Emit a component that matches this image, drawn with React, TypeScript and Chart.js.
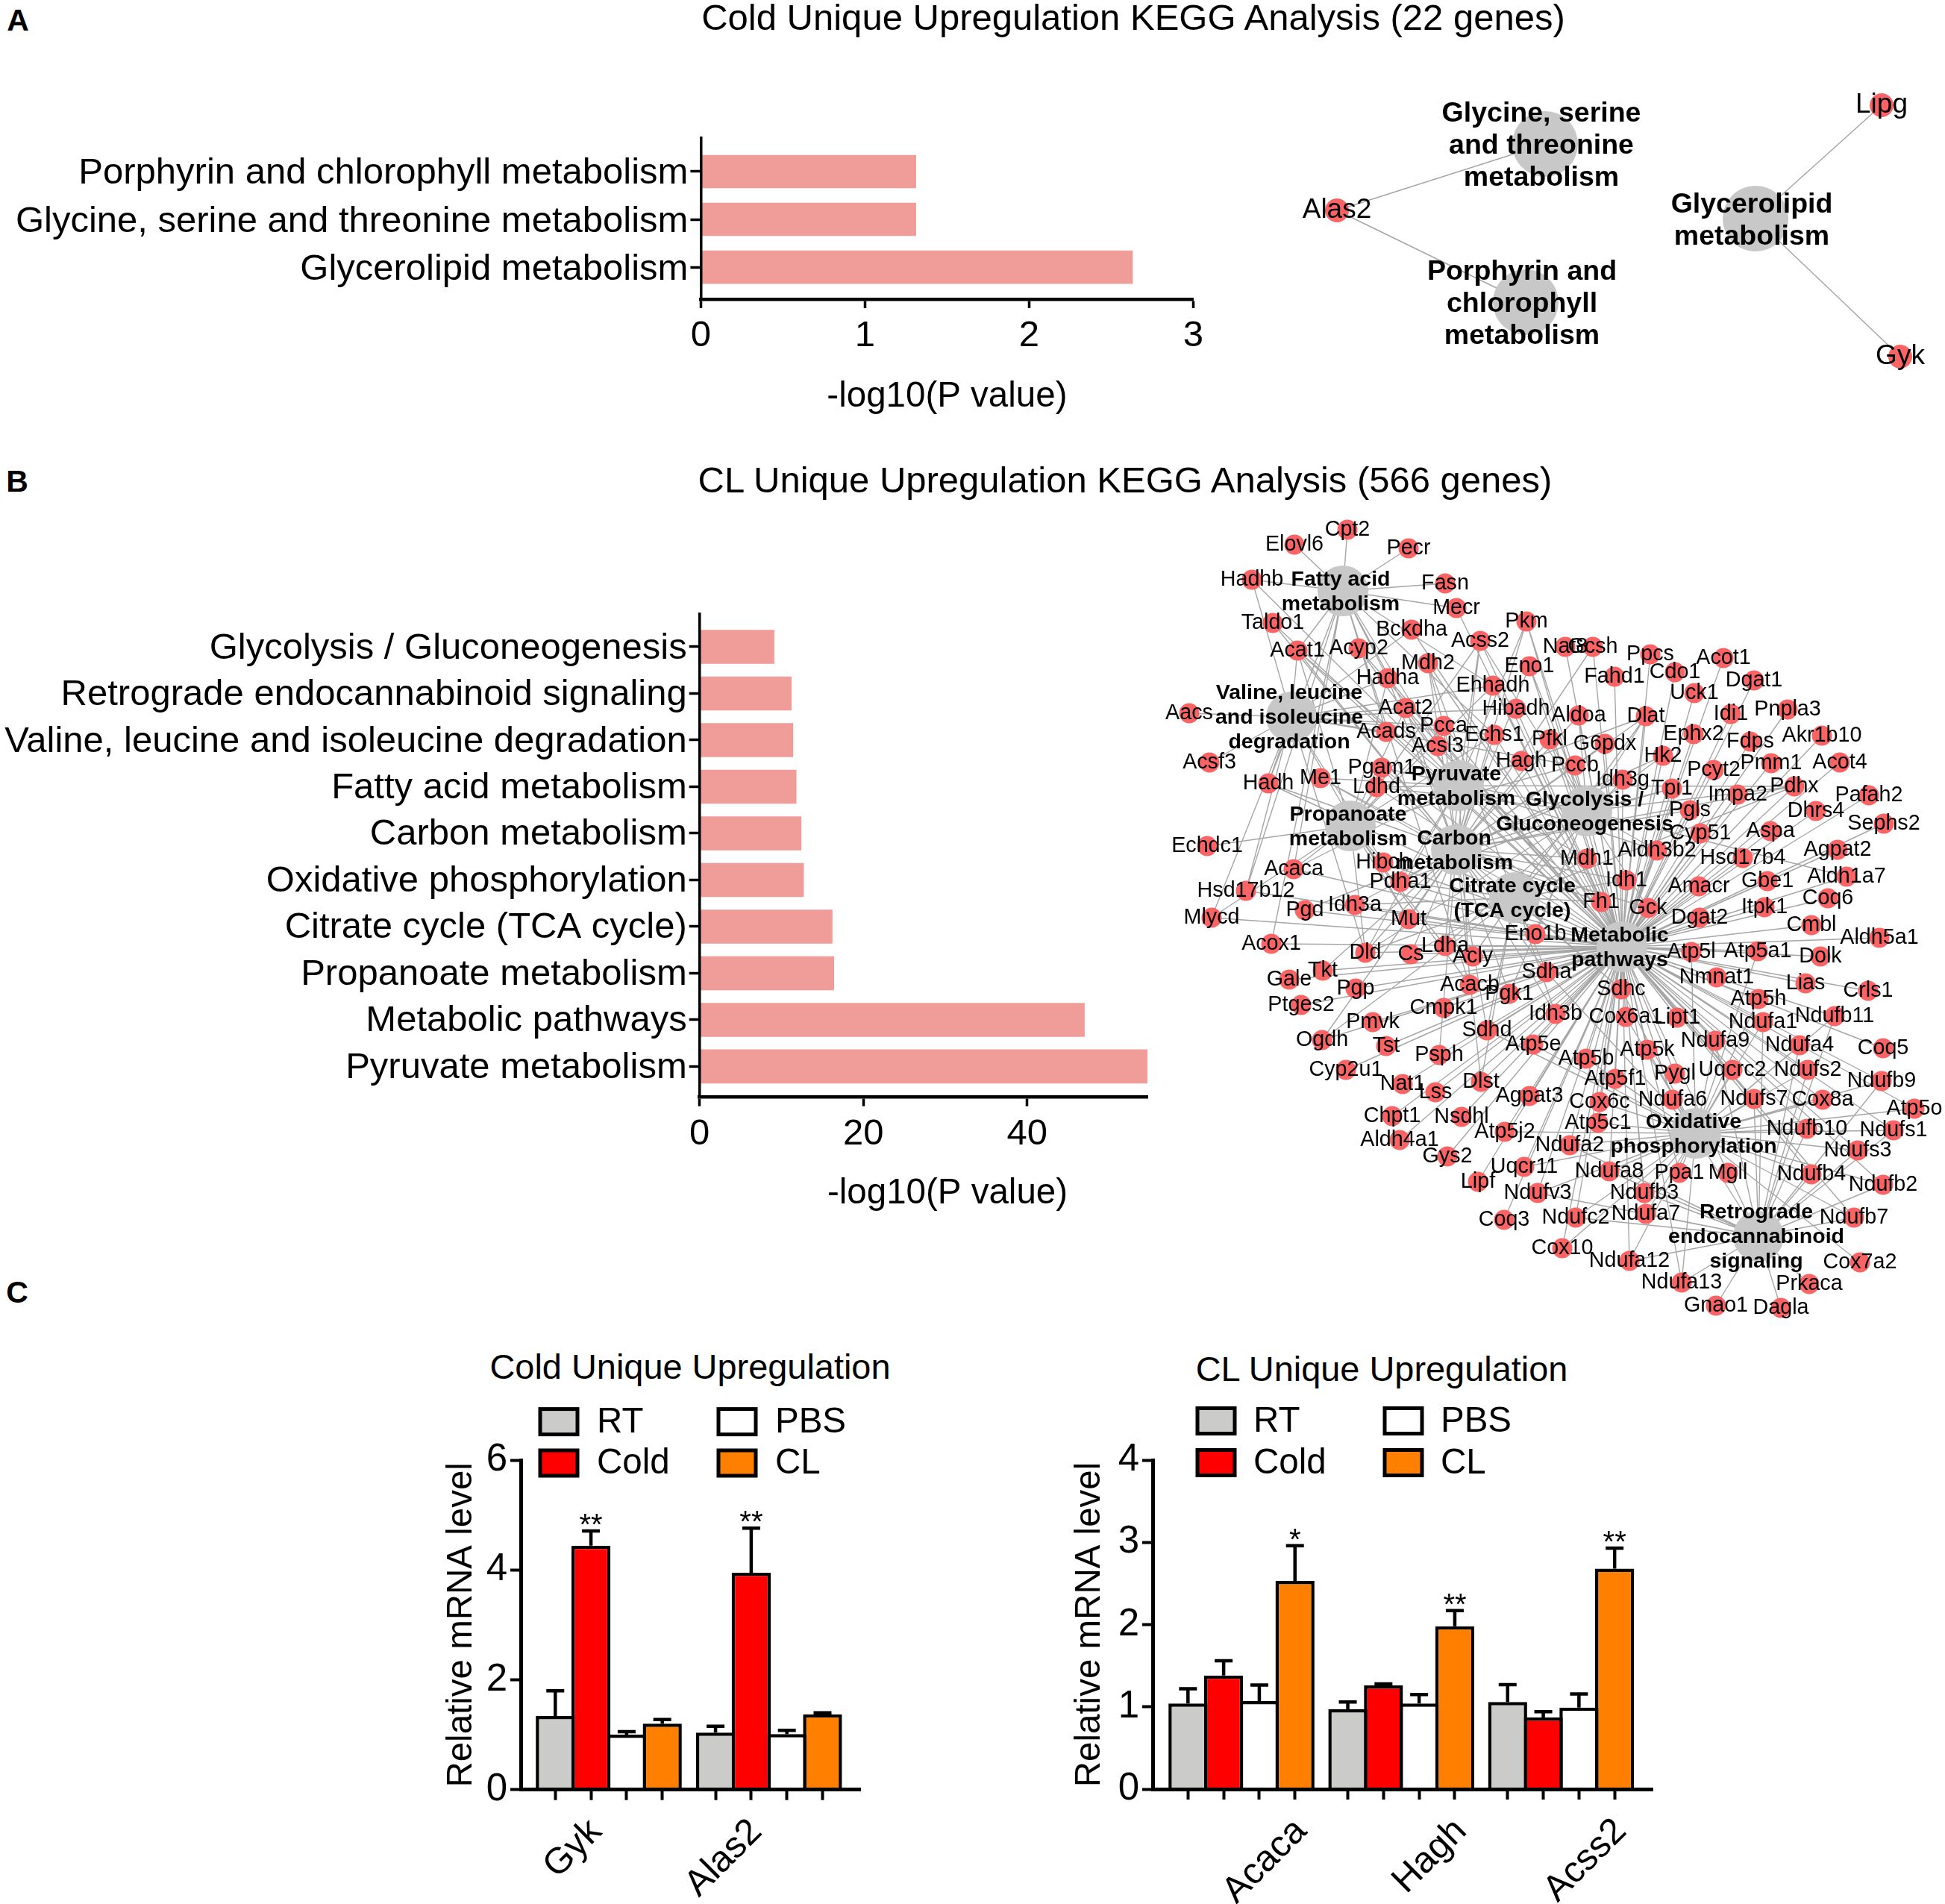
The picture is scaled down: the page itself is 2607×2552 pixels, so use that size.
import React, { useEffect, useRef } from "react";
import { Chart, registerables } from "chart.js";

Chart.register(...registerables);

const FONT = "'Liberation Sans', Arial, sans-serif";
Chart.defaults.font.family = FONT;
Chart.defaults.color = "#000";

// ---------- Panel A / B bars ----------
const coldKeggCategories = [
  "Porphyrin and chlorophyll metabolism",
  "Glycine, serine and threonine metabolism",
  "Glycerolipid metabolism",
];
const coldKeggValues = [1.31, 1.31, 2.63];
const coldKeggTicks = [0, 1, 2, 3];

const clKeggCategories = [
  "Glycolysis / Gluconeogenesis",
  "Retrograde endocannabinoid signaling",
  "Valine, leucine and isoleucine degradation",
  "Fatty acid metabolism",
  "Carbon metabolism",
  "Oxidative phosphorylation",
  "Citrate cycle (TCA cycle)",
  "Propanoate metabolism",
  "Metabolic pathways",
  "Pyruvate metabolism",
];
const clKeggValues = [9.1, 11.2, 11.4, 11.8, 12.4, 12.7, 16.2, 16.4, 47.0, 54.7];
const clKeggTicks = [0, 20, 40];

// ---------- Panel C bars ----------
const treatments = ["RT", "Cold", "PBS", "CL"];
const treatmentColors = ["#CBCBC9", "#FF0000", "#FFFFFF", "#FF8000"];

const coldGenes = ["Gyk", "Alas2"];
const coldRT = [1.34, 1.04];
const coldCold = [4.44, 3.95];
const coldPBS = [1.0, 1.01];
const coldCL = [1.2, 1.37];
const coldRTUpper = [1.8, 1.155];
const coldColdUpper = [4.71, 4.76];
const coldPBSUpper = [1.055, 1.08];
const coldCLUpper = [1.275, 1.4];
const coldMarks = ["**", "**"];

const clGenes = ["Acaca", "Hagh", "Acss2"];
const clRT = [1.04, 0.97, 1.06];
const clCold = [1.38, 1.26, 0.87];
const clPBS = [1.07, 1.04, 0.99];
const clCL = [2.53, 1.98, 2.68];
const clRTUpper = [1.22, 1.06, 1.27];
const clColdUpper = [1.56, 1.28, 0.94];
const clPBSUpper = [1.265, 1.15, 1.157];
const clCLUpper = [2.96, 2.17, 2.93];
const clMarks = ["*", "**", "**"];

// ---------- Panel A network ----------
type Node = [string, number, number];
const coldHubs: Node[] = [
  ["Glycine, serine\nand threonine\nmetabolism", 2071, 193],
  ["Porphyrin and\nchlorophyll\nmetabolism", 2045, 405],
  ["Glycerolipid\nmetabolism", 2353, 293],
];
const coldGeneNodes: Node[] = [
  ["Alas2", 1792, 282],
  ["Lipg", 2522, 141],
  ["Gyk", 2547, 478],
];
const coldLinks: string[][] = [["Alas2"], ["Alas2"], ["Lipg", "Gyk"]];

// ---------- Panel B network ----------
const clHubs: Node[] = [
  ["Fatty acid\nmetabolism", 1800, 792],
  ["Valine, leucine\nand isoleucine\ndegradation", 1731, 961],
  ["Pyruvate\nmetabolism", 1955, 1053],
  ["Propanoate\nmetabolism", 1810, 1107],
  ["Carbon\nmetabolism", 1952, 1139],
  ["Citrate cycle\n(TCA cycle)", 2030, 1203],
  ["Glycolysis /\nGluconeogenesis", 2127, 1087],
  ["Metabolic\npathways", 2174, 1269],
  ["Oxidative\nphosphorylation", 2273, 1519],
  ["Retrograde\nendocannabinoid\nsignaling", 2357, 1657],
];
const clGeneNodes: Node[] = [
  ["Elovl6", 1735, 730], ["Cpt2", 1806, 710], ["Pecr", 1888, 735], ["Hadhb", 1678, 777],
  ["Fasn", 1937, 782], ["Mecr", 1952, 815], ["Taldo1", 1706, 835], ["Bckdha", 1892, 844],
  ["Acss2", 1984, 859], ["Pkm", 2046, 833], ["Acat1", 1739, 872], ["Acyp2", 1821, 869],
  ["Mdh2", 1914, 889], ["Hadha", 1860, 909], ["Eno1", 2050, 893], ["Ehhadh", 2001, 919],
  ["Aacs", 1594, 956], ["Acat2", 1884, 949], ["Hibadh", 2032, 950], ["Pcca", 1935, 973],
  ["Acads", 1858, 981], ["Echs1", 2003, 985], ["Acsl3", 1927, 1000], ["Acsf3", 1621, 1022],
  ["Hagh", 2039, 1020], ["Pgam1", 1852, 1029], ["Hadh", 1700, 1050], ["Me1", 1770, 1043],
  ["Ldhd", 1845, 1055], ["Echdc1", 1618, 1134], ["Acaca", 1734, 1165], ["Hibch", 1854, 1156],
  ["Pdha1", 1877, 1182], ["Hsd17b12", 1670, 1194], ["Idh3a", 1816, 1213], ["Pgd", 1749, 1220],
  ["Mlycd", 1624, 1230], ["Mut", 1888, 1232],
  ["Nat8", 2098, 867], ["Gcsh", 2135, 867], ["Ppcs", 2212, 877], ["Fahd1", 2164, 907],
  ["Cdo1", 2245, 901], ["Acot1", 2310, 882], ["Dgat1", 2351, 912], ["Uck1", 2271, 929],
  ["Idi1", 2320, 957], ["Pnpla3", 2396, 951], ["Aldoa", 2116, 959], ["Dlat", 2206, 960],
  ["Pfkl", 2077, 991], ["G6pdx", 2151, 997], ["Ephx2", 2270, 984], ["Fdps", 2346, 994],
  ["Akr1b10", 2442, 986], ["Hk2", 2229, 1013], ["Pccb", 2111, 1026], ["Pcyt2", 2297, 1032],
  ["Pmm1", 2374, 1023], ["Acot4", 2466, 1022], ["Idh3g", 2175, 1045], ["Tpi1", 2241, 1057],
  ["Pdhx", 2405, 1054], ["Impa2", 2329, 1065], ["Pafah2", 2505, 1066], ["Pgls", 2265, 1086],
  ["Dhrs4", 2434, 1087], ["Sephs2", 2525, 1104], ["Cyp51", 2279, 1117], ["Aspa", 2373, 1114],
  ["Agpat2", 2463, 1139], ["Aldh3b2", 2221, 1140], ["Mdh1", 2127, 1151], ["Hsd17b4", 2336, 1150],
  ["Idh1", 2180, 1180], ["Gbe1", 2369, 1181], ["Aldh1a7", 2475, 1175], ["Amacr", 2277, 1188],
  ["Coq6", 2450, 1204], ["Fh1", 2146, 1209], ["Gck", 2209, 1217], ["Itpk1", 2365, 1216],
  ["Dgat2", 2278, 1230], ["Cmbl", 2428, 1240],
  ["Acox1", 1704, 1265], ["Dld", 1830, 1277], ["Cs", 1891, 1279], ["Ldha", 1937, 1268],
  ["Acly", 1974, 1282], ["Tkt", 1773, 1301], ["Gale", 1728, 1313], ["Pgp", 1817, 1325],
  ["Acacb", 1970, 1320], ["Pgk1", 2023, 1332], ["Ptges2", 1744, 1347], ["Cmpk1", 1935, 1351],
  ["Pmvk", 1840, 1370], ["Sdhd", 1993, 1381], ["Ogdh", 1772, 1394], ["Tst", 1858, 1402],
  ["Psph", 1929, 1414], ["Cyp2u1", 1804, 1434], ["Nat1", 1880, 1453], ["Lss", 1924, 1464],
  ["Dlst", 1985, 1450], ["Agpat3", 2050, 1469], ["Chpt1", 1866, 1496], ["Nsdhl", 1959, 1497],
  ["Aldh4a1", 1876, 1528], ["Atp5j2", 2017, 1517], ["Gys2", 1940, 1550], ["Uqcr11", 2043, 1564],
  ["Lipf", 1981, 1584], ["Ndufv3", 2061, 1599], ["Coq3", 2016, 1635], ["Sdha", 2073, 1303],
  ["Idh3b", 2085, 1359], ["Atp5e", 2055, 1400], ["Eno1b", 2058, 1252],
  ["Aldh5a1", 2519, 1257], ["Atp5l", 2267, 1276], ["Atp5a1", 2356, 1275], ["Dolk", 2440, 1282],
  ["Nmnat1", 2301, 1310], ["Lias", 2420, 1318], ["Crls1", 2504, 1328], ["Sdhc", 2173, 1326],
  ["Atp5h", 2357, 1339], ["Cox6a1", 2179, 1363], ["Lipt1", 2248, 1364], ["Ndufa1", 2363, 1370],
  ["Ndufb11", 2459, 1362], ["Ndufa9", 2299, 1395], ["Ndufa4", 2412, 1401], ["Coq5", 2524, 1405],
  ["Atp5k", 2208, 1407], ["Atp5b", 2126, 1419], ["Pygl", 2245, 1439], ["Uqcrc2", 2322, 1434],
  ["Ndufs2", 2423, 1434], ["Ndufb9", 2522, 1449], ["Atp5f1", 2165, 1446], ["Cox6c", 2144, 1477],
  ["Ndufa6", 2242, 1474], ["Ndufs7", 2351, 1473], ["Cox8a", 2443, 1474], ["Atp5o", 2566, 1486],
  ["Atp5c1", 2142, 1505], ["Ndufb10", 2422, 1513], ["Ndufs1", 2538, 1515], ["Ndufa2", 2104, 1535],
  ["Ndufs3", 2490, 1542], ["Ndufa8", 2157, 1570], ["Ppa1", 2251, 1572], ["Mgll", 2316, 1572],
  ["Ndufb4", 2428, 1574], ["Ndufb2", 2524, 1588], ["Ndufb3", 2204, 1599], ["Ndufa7", 2206, 1627],
  ["Ndufc2", 2112, 1632], ["Ndufb7", 2485, 1632], ["Cox10", 2094, 1673], ["Cox7a2", 2493, 1692],
  ["Ndufa12", 2184, 1690], ["Ndufa13", 2254, 1719], ["Prkaca", 2425, 1721], ["Gnao1", 2300, 1750],
  ["Dagla", 2387, 1753],
];

const fattyAcidGenes = "Elovl6 Cpt2 Pecr Hadhb Fasn Mecr Acat1 Hadha Acat2 Ehhadh Echs1 Acsl3 Hadh Acox1 Acaca Acacb Hsd17b12 Acads".split(" ");
const valineGenes = "Aacs Acsf3 Hadhb Hadha Hadh Acat1 Acat2 Acads Bckdha Ehhadh Echs1 Pcca Pccb Mut Hibadh Hibch Mlycd Dld Hsd17b12".split(" ");
const pyruvateGenes = "Acss2 Acat1 Acat2 Acaca Acacb Acyp2 Dlat Dld Fh1 Hagh Ldha Ldhd Mdh1 Mdh2 Me1 Pdha1 Pdhx Pkm Aldh3b2".split(" ");
const propanoateGenes = "Acat1 Acat2 Acaca Acacb Mlycd Echdc1 Hibch Acss2 Pcca Pccb Mut Ldha Ldhd Ehhadh Echs1 Hadha Dld".split(" ");
const carbonGenes = "Taldo1 Acat1 Acat2 Acss2 Aldoa Cs Dlat Dld Eno1 Eno1b Fh1 G6pdx Gck Hk2 Idh1 Idh3a Idh3b Idh3g Hadha Hadh Echs1 Ehhadh Me1 Mdh1 Mdh2 Mut Ogdh Pcca Pccb Pdha1 Pdhx Pfkl Pgam1 Pgd Pgk1 Pgls Pkm Psph Sdha Sdhc Sdhd Tkt Tpi1 Gcsh Dlst".split(" ");
const citrateGenes = "Acly Cs Dlat Dld Dlst Fh1 Idh1 Idh3a Idh3b Idh3g Mdh1 Mdh2 Ogdh Pdha1 Pdhx Sdha Sdhc Sdhd".split(" ");
const glycolysisGenes = "Acss2 Aldoa Dlat Dld Eno1 Eno1b Gck Hk2 Ldha Ldhd Pdha1 Pdhx Pfkl Pgam1 Pgk1 Pkm Tpi1 Aldh3b2 Aldh1a7".split(" ");
const oxphosGenes = "Atp5l Atp5a1 Atp5h Atp5o Atp5k Atp5b Atp5f1 Atp5c1 Atp5e Atp5j2 Cox6a1 Cox6c Cox8a Cox7a2 Cox10 Ndufa1 Ndufa2 Ndufa4 Ndufa6 Ndufa7 Ndufa8 Ndufa9 Ndufa12 Ndufa13 Ndufb2 Ndufb3 Ndufb4 Ndufb7 Ndufb9 Ndufb10 Ndufb11 Ndufc2 Ndufs1 Ndufs2 Ndufs3 Ndufs7 Ndufv3 Sdha Sdhc Sdhd Uqcrc2 Uqcr11 Ppa1".split(" ");
const retrogradeGenes = "Ndufa1 Ndufa2 Ndufa4 Ndufa6 Ndufa7 Ndufa8 Ndufa9 Ndufa12 Ndufa13 Ndufb2 Ndufb3 Ndufb4 Ndufb7 Ndufb9 Ndufb10 Ndufb11 Ndufc2 Ndufs1 Ndufs2 Ndufs3 Ndufs7 Ndufv3 Mgll Prkaca Gnao1 Dagla".split(" ");
const notMetabolicGenes = "Elovl6 Cpt2 Pecr Fasn Aacs Acsf3 Echdc1 Prkaca Gnao1 Dagla Cox7a2".split(" ");
const metabolicGenes = clGeneNodes.map((n) => n[0]).filter((g) => !notMetabolicGenes.includes(g));
const clLinks: string[][] = [
  fattyAcidGenes, valineGenes, pyruvateGenes, propanoateGenes, carbonGenes,
  citrateGenes, glycolysisGenes, metabolicGenes, oxphosGenes, retrogradeGenes,
];

// ---------- helpers ----------
const font = (size: number, weight: any = "normal") => ({ family: FONT, size, weight, lineHeight: 1.2 });

const textPlugin = (items: { text: string; x: number; y: number; size: number }[]) => ({
  id: "freeText",
  afterDraw(chart: any) {
    const c = chart.ctx;
    c.save();
    c.fillStyle = "#000";
    c.textAlign = "center";
    c.textBaseline = "middle";
    items.forEach((t) => {
      c.font = `${t.size}px ${FONT}`;
      c.fillText(t.text, t.x, t.y);
    });
    c.restore();
  },
});

function hbarConfig(o: any) {
  const { cats, values, ticks, xMax, yMin, yMax, yAxisWidth, xAxisHeight, thickness, padTop, padRight, title, titleBottom, extra, xPad, labelShift } = o;
  return {
    type: "bar",
    data: {
      datasets: [{
        data: values.map((v: number, i: number) => ({ x: v, y: i })),
        backgroundColor: "#F09C99",
        borderWidth: 0,
        barThickness: thickness,
      }],
    },
    options: {
      indexAxis: "y",
      animation: false,
      responsive: false,
      devicePixelRatio: 1,
      layout: { padding: { top: padTop, right: padRight, left: 0, bottom: 0 } },
      plugins: { legend: { display: false }, title: { display: false }, tooltip: { enabled: false } },
      scales: {
        y: {
          type: "linear", reverse: true, min: yMin, max: yMax, offset: false,
          afterFit: (s: any) => { s.width = yAxisWidth; },
          afterBuildTicks: (s: any) => { s.ticks = cats.map((_: string, i: number) => ({ value: i })); },
          grid: { offset: false, drawOnChartArea: false, drawTicks: true, tickLength: 14, tickWidth: 3.5, tickColor: "#000", z: 1 },
          border: { display: true, color: "#000", width: 3.5, z: 1 },
          ticks: {
            autoSkip: false, padding: 3, color: "#000", font: font(49), labelOffset: labelShift,
            callback: (v: number) => cats[v],
          },
        },
        x: {
          type: "linear", min: 0, max: xMax,
          afterFit: (s: any) => { s.height = xAxisHeight; },
          afterBuildTicks: (s: any) => { s.ticks = ticks.map((v: number) => ({ value: v })); },
          grid: { drawOnChartArea: false, drawTicks: true, tickLength: 12, tickWidth: 3.5, tickColor: "#000", z: 1 },
          border: { display: true, color: "#000", width: 4.5, z: 1 },
          ticks: { autoSkip: false, padding: xPad, maxRotation: 0, color: "#000", font: font(49) },
          title: title
            ? { display: true, text: title, color: "#000", font: font(47.5), padding: { top: 0, bottom: titleBottom } }
            : { display: false },
        },
      },
    },
    plugins: extra ? [extra] : [],
  };
}

function errorBarsPlugin(uppers: number[][], markDataset: number, marks: string[]) {
  return {
    id: "errorBars",
    afterDatasetsDraw(chart: any) {
      const c = chart.ctx;
      const y = chart.scales.y;
      c.save();
      c.strokeStyle = "#000";
      c.lineWidth = 4.5;
      uppers.forEach((row, d) => {
        const bars = chart.getDatasetMeta(d).data;
        row.forEach((u, i) => {
          const b = bars[i];
          const top = y.getPixelForValue(u);
          c.beginPath();
          c.moveTo(b.x, b.y);
          c.lineTo(b.x, top);
          c.moveTo(b.x - 12, top);
          c.lineTo(b.x + 12, top);
          c.stroke();
        });
      });
      c.fillStyle = "#000";
      c.font = `40px ${FONT}`;
      c.textAlign = "center";
      c.textBaseline = "alphabetic";
      marks.forEach((m, i) => {
        const b = chart.getDatasetMeta(markDataset).data[i];
        c.fillText(m, b.x, y.getPixelForValue(uppers[markDataset][i]) + 5);
      });
      c.restore();
    },
  };
}

function legendPlugin(boxX: number[], textX: number[], rowY: number[], boxW: number) {
  return {
    id: "gridLegend",
    afterDraw(chart: any) {
      const c = chart.ctx;
      c.save();
      c.font = `47.5px ${FONT}`;
      c.textAlign = "left";
      c.textBaseline = "middle";
      chart.data.datasets.forEach((d: any, i: number) => {
        const col = i < 2 ? 0 : 1;
        const row = i % 2;
        c.fillStyle = d.backgroundColor;
        c.strokeStyle = "#000";
        c.lineWidth = 5;
        c.fillRect(boxX[col], rowY[row] - 17, boxW, 34);
        c.strokeRect(boxX[col], rowY[row] - 17, boxW, 34);
        c.fillStyle = "#000";
        c.fillText(d.label, textX[col], rowY[row] + 1);
      });
      c.restore();
    },
  };
}

function groupedConfig(o: any) {
  const { genes, series, uppers, xMin, xMax, yMax, yStep, barStep, groupStep, axisWidth, axisHeight, padTop, padRight, yTitlePad, legend, markDataset, marks, labelShiftPx, labelPad } = o;
  const offset = barStep / groupStep;
  const labelAt = new Map<number, string>();
  const tickValues: number[] = [];
  genes.forEach((gene: string, g: number) => {
    [-1.5, -0.5, 0.5, 1.5].forEach((k) => tickValues.push(g + 1 + k * offset));
    const v = g + 1 + labelShiftPx / groupStep;
    labelAt.set(v, gene);
    tickValues.push(v);
  });
  tickValues.sort((a, b) => a - b);
  // bar width is driven by the smallest gap the bar ruler sees among ticks
  let minGap = Infinity;
  for (let i = 1; i < tickValues.length; i++) minGap = Math.min(minGap, tickValues[i] - tickValues[i - 1]);
  const categoryPercentage = (series.length * barStep) / (minGap * groupStep);
  return {
    type: "bar",
    data: {
      datasets: series.map((vals: number[], d: number) => ({
        label: treatments[d],
        data: vals.map((v, i) => ({ x: i + 1, y: v })),
        backgroundColor: treatmentColors[d],
        borderColor: "#000",
        borderWidth: 4.5,
        borderSkipped: "bottom",
        categoryPercentage,
        barPercentage: (barStep + 4.5) / barStep,
      })),
    },
    options: {
      animation: false,
      responsive: false,
      devicePixelRatio: 1,
      layout: { padding: { top: padTop, right: padRight, left: 0, bottom: 0 } },
      plugins: { legend: { display: false }, tooltip: { enabled: false }, title: { display: false } },
      scales: {
        x: {
          type: "linear", min: xMin, max: xMax, offset: false,
          afterFit: (s: any) => { s.height = axisHeight; },
          afterBuildTicks: (s: any) => { s.ticks = tickValues.map((v) => ({ value: v })); },
          grid: {
            offset: false, drawOnChartArea: false, drawTicks: true, tickLength: 14, tickWidth: 4, z: 1,
            tickColor: (ctx: any) => (ctx.tick && labelAt.has(ctx.tick.value) ? "rgba(0,0,0,0)" : "#000"),
          },
          border: { display: true, color: "#000", width: 5, z: 1 },
          ticks: {
            autoSkip: false, minRotation: 45, maxRotation: 45, padding: labelPad, color: "#000", font: font(49),
            callback: (v: number) => labelAt.get(v) || "",
          },
        },
        y: {
          type: "linear", min: 0, max: yMax,
          afterFit: (s: any) => { s.width = axisWidth; },
          afterBuildTicks: (s: any) => {
            const t = [];
            for (let v = 0; v <= yMax; v += yStep) t.push({ value: v });
            s.ticks = t;
          },
          grid: { drawOnChartArea: false, drawTicks: true, tickLength: 14, tickWidth: 4, tickColor: "#000", z: 1 },
          border: { display: true, color: "#000", width: 5, z: 1 },
          ticks: { padding: 4, color: "#000", font: font(51) },
          title: { display: true, text: "Relative mRNA level", color: "#000", font: font(47.5), padding: { top: yTitlePad, bottom: 0 } },
        },
      },
    },
    plugins: [errorBarsPlugin(uppers, markDataset, marks), legendPlugin(legend.boxX, legend.textX, legend.rowY, legend.boxW)],
  };
}

function networkConfig(o: any) {
  const { hubs, genes, links, left, top, width, height, hubR, geneR, geneSize, hubSize, hubGap, hubDx, hubDy, edgeWidth } = o;
  const byName: any = {};
  genes.forEach((n: Node) => { byName[n[0]] = n; });
  const edges: { x: number; y: number }[] = [];
  hubs.forEach((h: Node, i: number) => {
    links[i].forEach((g: string) => {
      const n = byName[g];
      if (!n) return;
      edges.push({ x: h[1], y: h[2] }, { x: n[1], y: n[2] }, { x: NaN, y: NaN });
    });
  });
  const labels = {
    id: "nodeLabels",
    afterDatasetsDraw(chart: any) {
      const c = chart.ctx;
      const { x, y } = chart.scales;
      c.save();
      c.fillStyle = "#000";
      c.textAlign = "center";
      c.textBaseline = "middle";
      c.font = `${geneSize}px ${FONT}`;
      genes.forEach((n: Node) => c.fillText(n[0], x.getPixelForValue(n[1]), y.getPixelForValue(n[2])));
      c.font = `bold ${hubSize}px ${FONT}`;
      hubs.forEach((h: Node) => {
        const lines = h[0].split("\n");
        lines.forEach((l: string, i: number) => {
          c.fillText(l, x.getPixelForValue(h[1]) + hubDx, y.getPixelForValue(h[2]) + hubDy + (i - (lines.length - 1) / 2) * hubGap);
        });
      });
      c.restore();
    },
  };
  return {
    type: "scatter",
    data: {
      datasets: [
        { data: edges, showLine: true, spanGaps: false, pointRadius: 0, borderColor: "#A6A6A6", borderWidth: edgeWidth, order: 3 },
        { data: hubs.map((h: Node) => ({ x: h[1], y: h[2] })), pointRadius: hubR, backgroundColor: "#C8C8C8", borderWidth: 0, order: 2 },
        { data: genes.map((n: Node) => ({ x: n[1], y: n[2] })), pointRadius: geneR, backgroundColor: "#FA6464", borderWidth: 0, order: 1 },
      ],
    },
    options: {
      animation: false,
      responsive: false,
      devicePixelRatio: 1,
      layout: { padding: 0, autoPadding: false },
      plugins: { legend: { display: false }, tooltip: { enabled: false } },
      scales: {
        x: { type: "linear", display: false, min: left, max: left + width },
        y: { type: "linear", display: false, reverse: true, min: top, max: top + height },
      },
    },
    plugins: [labels],
  };
}

function ChartCanvas({ left, top, width, height, build }: any) {
  const ref = useRef<HTMLCanvasElement | null>(null);
  useEffect(() => {
    const chart = new Chart(ref.current as any, build());
    return () => chart.destroy();
  }, []);
  return <canvas ref={ref} width={width} height={height} style={{ position: "absolute", left, top, width, height }} />;
}

function Heading({ text, x, y, size, bold }: any) {
  return (
    <div style={{
      position: "absolute", left: x, top: y - size / 2, transform: "translateX(-50%)", whiteSpace: "nowrap",
      fontFamily: FONT, fontSize: size, lineHeight: `${size}px`, fontWeight: bold ? "bold" : "normal", color: "#000",
    }}>{text}</div>
  );
}

export default function App() {
  return (
    <div style={{ position: "absolute", left: 0, top: 0, width: 2607, height: 2552, overflow: "hidden", background: "#fff" }}>
      <Heading text="A" x={24} y={27} size={41} bold />
      <Heading text="B" x={23} y={645} size={41} bold />
      <Heading text="C" x={23} y={1732} size={41} bold />
      <Heading text="Cold Unique Upregulation KEGG Analysis (22 genes)" x={1519} y={23} size={49} />
      <Heading text="CL Unique Upregulation KEGG Analysis (566 genes)" x={1508} y={643} size={49} />
      <Heading text="Cold Unique Upregulation" x={925} y={1832} size={46.9} />
      <Heading text="CL Unique Upregulation" x={1852} y={1835} size={46.9} />

      <ChartCanvas left={0} top={100} width={1640} height={470} build={() => hbarConfig({
        cats: coldKeggCategories, values: coldKeggValues, ticks: coldKeggTicks, xMax: 3,
        yMin: -0.71, yMax: 2.67, yAxisWidth: 939.4, xAxisHeight: 169, thickness: 44,
        padTop: 84.5, padRight: 40.6, title: "-log10(P value)", titleBottom: 10, xPad: 8, labelShift: 3,
      })} />
      <ChartCanvas left={0} top={760} width={1600} height={900} build={() => hbarConfig({
        cats: clKeggCategories, values: clKeggValues, ticks: clKeggTicks, xMax: 54.7,
        yMin: -0.704, yMax: 9.66, yAxisWidth: 937.7, xAxisHeight: 189.3, thickness: 45,
        padTop: 63, padRight: 62, xPad: 8, labelShift: 2,
        extra: textPlugin([{ text: "-log10(P value)", x: 1270, y: 840, size: 47.5 }]),
      })} />

      <ChartCanvas left={1700} top={80} width={907} height={460} build={() => networkConfig({
        hubs: coldHubs, genes: coldGeneNodes, links: coldLinks, left: 1700, top: 80, width: 907, height: 460,
        hubR: 44, geneR: 16, geneSize: 37, hubSize: 37.5, hubGap: 43, hubDx: -5, hubDy: 3, edgeWidth: 1.5,
      })} />
      <ChartCanvas left={1540} top={680} width={1067} height={1100} build={() => networkConfig({
        hubs: clHubs, genes: clGeneNodes, links: clLinks, left: 1540, top: 680, width: 1067, height: 1100,
        hubR: 34, geneR: 13.5, geneSize: 28.7, hubSize: 28.5, hubGap: 33, hubDx: -3, hubDy: 1.5, edgeWidth: 1.4,
      })} />

      <ChartCanvas left={560} top={1780} width={730} height={772} build={() => groupedConfig({
        genes: coldGenes, series: [coldRT, coldCold, coldPBS, coldCL],
        uppers: [coldRTUpper, coldColdUpper, coldPBSUpper, coldCLUpper],
        xMin: 0.4507, xMax: 2.569, yMax: 6, yStep: 2, barStep: 47.8, groupStep: 214.8,
        axisWidth: 138, axisHeight: 153.3, padTop: 177, padRight: 137, yTitlePad: 30,
        labelShiftPx: -17, labelPad: 14,
        legend: { boxX: [164, 403], textX: [240, 479], rowY: [125.6, 181], boxW: 50 },
        markDataset: 1, marks: coldMarks,
      })} />
      <ChartCanvas left={1400} top={1780} width={904} height={772} build={() => groupedConfig({
        genes: clGenes, series: [clRT, clCold, clPBS, clCL],
        uppers: [clRTUpper, clColdUpper, clPBSUpper, clCLUpper],
        xMin: 0.4444, xMax: 3.572, yMax: 4, yStep: 1, barStep: 47.8, groupStep: 214.2,
        axisWidth: 145, axisHeight: 154, padTop: 177, padRight: 89, yTitlePad: 32,
        labelShiftPx: 80, labelPad: 14,
        legend: { boxX: [205, 456], textX: [280, 531], rowY: [124.5, 180.5], boxW: 50 },
        markDataset: 3, marks: clMarks,
      })} />
    </div>
  );
}
